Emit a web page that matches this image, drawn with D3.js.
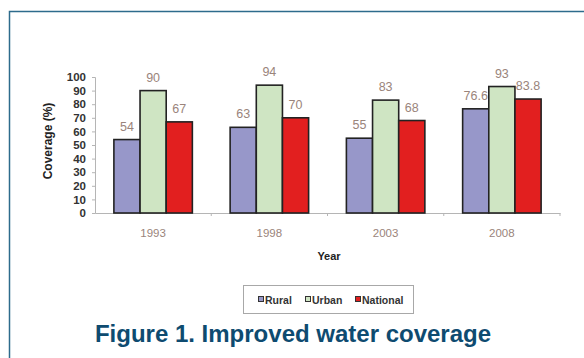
<!DOCTYPE html>
<html>
<head>
<meta charset="utf-8">
<script src="https://cdn.jsdelivr.net/npm/d3@7"></script>
<style>
  html, body { margin: 0; padding: 0; background: #fff; }
  svg { display: block; font-family: "Liberation Sans", Arial, sans-serif; }
</style>
</head>
<body>
<svg id="chart" width="584" height="358"></svg>
<script>
// Improved water coverage by survey year
const years = ["1993", "1998", "2003", "2008"];
const seriesNames = ["Rural", "Urban", "National"];
const rural = [54, 63, 55, 76.6];
const urban = [90, 94, 83, 93];
const national = [67, 70, 68, 83.8];
const yTicks = [0, 10, 20, 30, 40, 50, 60, 70, 80, 90, 100];
const seriesColors = ["#9797c9", "#cfe5c3", "#e21f1f"];

const seriesValues = [rural, urban, national];
const rows = years.map((y, i) => ({
  year: y,
  values: seriesNames.map((s, k) => ({ key: s, value: seriesValues[k][i] }))
}));

const svg = d3.select("#chart");

// Frame: teal rule along the top and left edges
svg.append("path")
  .attr("d", "M9.5,358 V11.5 H584")
  .attr("fill", "none")
  .attr("stroke", "#2d6b8c")
  .attr("stroke-width", 1.5);

const plot = { left: 95, right: 560, top: 77, bottom: 213 };

const x0 = d3.scaleBand().domain(years).range([plot.left, plot.right]).padding(0);
const groupW = x0.bandwidth() * 0.675;
const x1 = d3.scaleBand().domain(seriesNames)
  .range([(x0.bandwidth() - groupW) / 2, (x0.bandwidth() + groupW) / 2]).padding(0);
const y = d3.scaleLinear().domain([0, 100]).range([plot.bottom, plot.top]);
const color = d3.scaleOrdinal().domain(seriesNames).range(seriesColors);

// Y axis
const yAxis = svg.append("g")
  .attr("transform", `translate(${plot.left},0)`)
  .call(d3.axisLeft(y).tickValues(yTicks).tickSize(3).tickPadding(6));
yAxis.select(".domain").attr("stroke", "#b5b5b5");
yAxis.selectAll(".tick line").attr("stroke", "#b5b5b5");
yAxis.selectAll(".tick text")
  .attr("font-size", 11.5)
  .attr("font-weight", "bold")
  .attr("fill", "#333");

// X axis: ticks mark the category boundaries
const xAxis = svg.append("g")
  .attr("transform", `translate(0,${plot.bottom})`)
  .call(d3.axisBottom(x0).tickSize(0).tickPadding(16));
xAxis.select(".domain").attr("stroke", "#b5b5b5");
xAxis.selectAll(".tick text")
  .attr("font-size", 11.5)
  .attr("fill", "#9a847b");
svg.append("g").selectAll("line")
  .data(years.slice(1).concat(["end"]))
  .join("line")
  .attr("x1", d => d === "end" ? plot.right : x0(d))
  .attr("x2", d => d === "end" ? plot.right : x0(d))
  .attr("y1", plot.bottom)
  .attr("y2", plot.bottom + 3)
  .attr("stroke", "#b5b5b5");

// Bars
const groups = svg.append("g").selectAll("g")
  .data(rows)
  .join("g")
  .attr("transform", d => `translate(${x0(d.year)},0)`);

groups.selectAll("rect")
  .data(d => d.values)
  .join("rect")
  .attr("x", d => x1(d.key))
  .attr("y", d => y(d.value))
  .attr("width", x1.bandwidth())
  .attr("height", d => y(0) - y(d.value))
  .attr("fill", d => color(d.key))
  .attr("stroke", "#222")
  .attr("stroke-width", 1.6);

// Value labels
groups.selectAll("text.val")
  .data(d => d.values)
  .join("text")
  .attr("class", "val")
  .attr("x", d => x1(d.key) + x1.bandwidth() / 2)
  .attr("y", d => y(d.value) - 9)
  .attr("text-anchor", "middle")
  .attr("font-size", 12.5)
  .attr("fill", "#9a847b")
  .text(d => d.value);

// Axis titles
svg.append("text")
  .attr("transform", "translate(52,141) rotate(-90)")
  .attr("text-anchor", "middle")
  .attr("font-size", 12)
  .attr("font-weight", "bold")
  .attr("fill", "#222")
  .text("Coverage (%)");

svg.append("text")
  .attr("x", 329)
  .attr("y", 260)
  .attr("text-anchor", "middle")
  .attr("font-size", 11)
  .attr("font-weight", "bold")
  .attr("fill", "#222")
  .text("Year");

// Legend
const legend = svg.append("g");
legend.append("rect")
  .attr("x", 243.5).attr("y", 285.5)
  .attr("width", 170).attr("height", 28)
  .attr("fill", "#fff")
  .attr("stroke", "#a8a8a8");
const legendX = [258, 305, 355];
const items = legend.selectAll("g.item")
  .data(seriesNames)
  .join("g")
  .attr("class", "item")
  .attr("transform", (d, i) => `translate(${legendX[i]},300)`);
items.append("rect")
  .attr("x", 0.5).attr("y", -3.5)
  .attr("width", 5).attr("height", 5)
  .attr("fill", d => color(d))
  .attr("stroke", "#333")
  .attr("stroke-width", 1);
items.append("text")
  .attr("x", 7).attr("y", 3.5)
  .attr("font-size", 10.5)
  .attr("font-weight", "bold")
  .attr("fill", "#333")
  .text(d => d);

// Caption
svg.append("text")
  .attr("x", 293)
  .attr("y", 342)
  .attr("text-anchor", "middle")
  .attr("font-size", 24)
  .attr("font-weight", "bold")
  .attr("fill", "#0e4b70")
  .text("Figure 1. Improved water coverage");
</script>
</body>
</html>
